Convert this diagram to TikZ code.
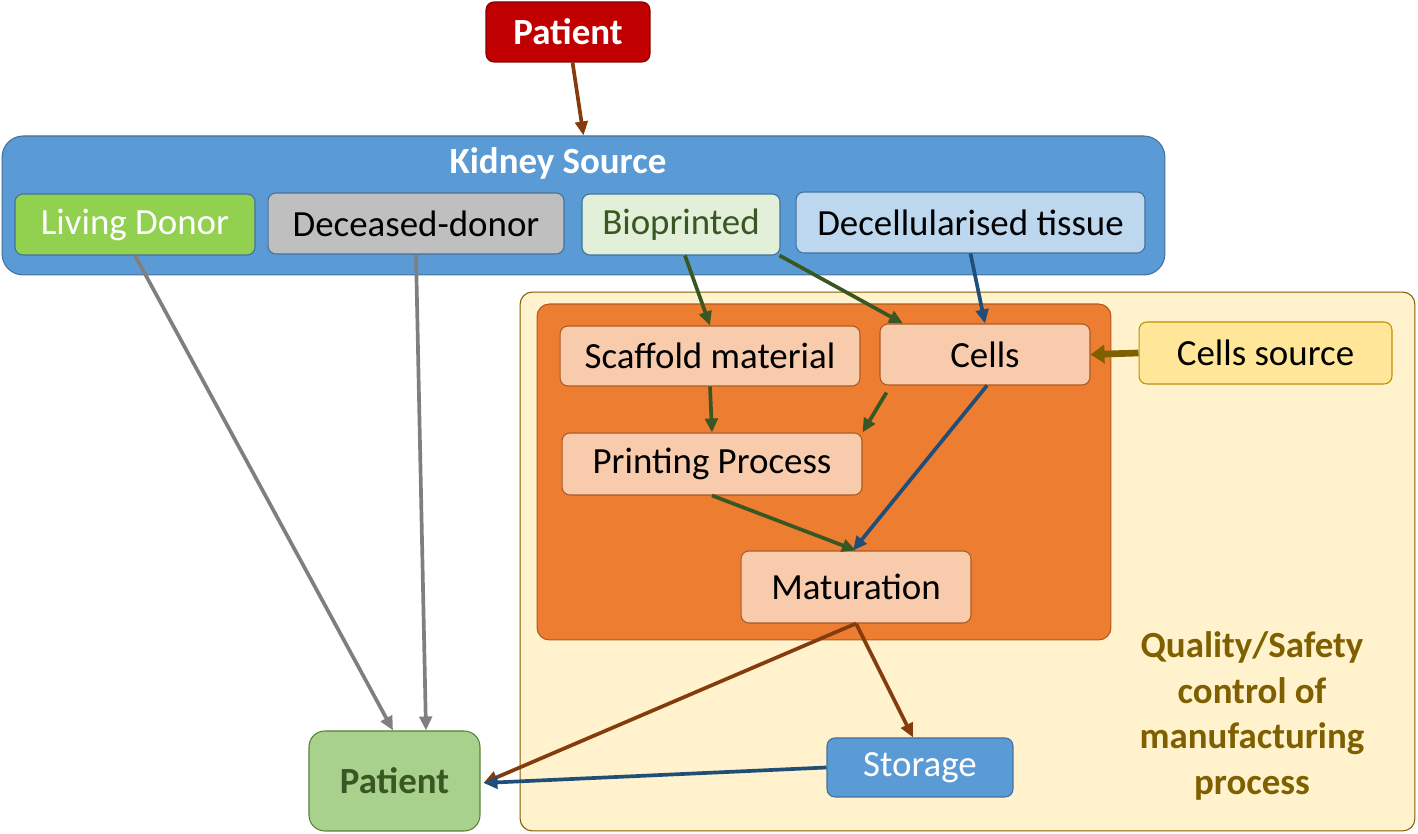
\documentclass[tikz,border=0pt]{standalone}
\usepackage{fontspec}
\setmainfont{Carlito}
\usetikzlibrary{arrows.meta, positioning}
\definecolor{ptred}{HTML}{C00000}
\definecolor{srcblue}{HTML}{5B9BD5}
\definecolor{srcedge}{HTML}{41719C}
\definecolor{livegreen}{HTML}{92D050}
\definecolor{deadgray}{HTML}{BFBFBF}
\definecolor{biofill}{HTML}{E2F0D9}
\definecolor{darkgreen}{HTML}{385723}
\definecolor{decfill}{HTML}{BDD7EE}
\definecolor{qcfill}{HTML}{FFF2CC}
\definecolor{olive}{HTML}{7F6000}
\definecolor{goldedge}{HTML}{BF9000}
\definecolor{orangefill}{HTML}{ED7D31}
\definecolor{orangeedge}{HTML}{AE5A21}
\definecolor{peach}{HTML}{F8CBAD}
\definecolor{csfill}{HTML}{FFE699}
\definecolor{ptgreen}{HTML}{A9D18E}
\definecolor{ptedge}{HTML}{548235}
\definecolor{brown}{HTML}{843C0C}
\definecolor{linegray}{HTML}{7F7F7F}
\definecolor{navy}{HTML}{1F4E79}
\tikzset{
    block/.style={rectangle, draw, rounded corners=4.5pt, text centered, inner sep=2pt, line width=0.6pt, font=\fontsize{21}{26}\selectfont},
    source/.style={block, draw=srcedge, minimum height=1.22cm},
    stage/.style={block, fill=peach, draw=orangeedge, minimum height=1.22cm},
    panel/.style={rectangle, draw, rounded corners=7pt, line width=0.6pt},
    arrow/.style={-{Triangle[length=0.28cm, width=0.25cm]}, line width=2.1pt},
}
\begin{document}
\begin{tikzpicture}[x=0.02cm, y=0.02cm]
    \useasboundingbox (0,0) rectangle (1418,834);
    % background panels
    \node[panel, rounded corners=12pt, fill=srcblue, draw=srcedge, minimum width=23.26cm, minimum height=2.78cm] (kidney) at (583.5,628.5) {};
    \node[panel, fill=qcfill, draw=olive, minimum width=17.9cm, minimum height=10.78cm] (qc) at (967.5,272.5) {};
    \node[panel, fill=orangefill, draw=orangeedge, minimum width=11.48cm, minimum height=6.72cm] (factory) at (824,362) {};
    % kidney sources
    \node[block, fill=ptred, draw=ptred!70!black, text=white, minimum width=3.28cm, minimum height=1.2cm, font=\fontsize{21}{26}\selectfont\bfseries] (patientin) at (568,802) {Patient};
    \node[font=\fontsize{21}{26}\selectfont\bfseries, text=white] (kidneytitle) at (558,671) {Kidney Source};
    \node[source, fill=livegreen, text=white, minimum width=4.8cm] (living) at (135,609.5) {Living Donor};
    \node[source, fill=deadgray, minimum width=5.92cm] (deceased) at (416,610.5) {Deceased-donor};
    \node[source, fill=biofill, text=darkgreen, minimum width=3.96cm] (bioprinted) at (681,609.5) {Bioprinted};
    \node[source, fill=decfill, minimum width=6.98cm] (decell) at (970.5,611.5) {Decellularised tissue};
    % manufacturing steps
    \node[stage, minimum width=6.0cm, minimum height=1.2cm] (scaffold) at (710,478) {Scaffold material};
    \node[stage, minimum width=4.2cm] (cells) at (985,479.5) {Cells};
    \node[stage, minimum width=6.0cm, minimum height=1.24cm] (printing) at (712,370) {Printing Process};
    \node[stage, minimum width=4.6cm, minimum height=1.44cm] (maturation) at (856,247) {Maturation};
    \node[block, fill=csfill, draw=goldedge, minimum width=5.06cm, minimum height=1.24cm] (cellsource) at (1265.5,481) {Cells source};
    \node[block, fill=srcblue, draw=srcedge, text=white, minimum width=3.72cm, minimum height=1.18cm] (storage) at (920,66.5) {Storage};
    \node[block, fill=ptgreen, draw=ptedge, text=darkgreen, minimum width=3.42cm, minimum height=2.0cm, rounded corners=9pt, font=\fontsize{21}{26}\selectfont\bfseries] (patientout) at (394.5,53) {Patient};
    \node[align=center, text=olive, font=\fontsize{21}{26}\selectfont\bfseries] (qclabel) at (1252,118) {Quality/Safety\\control of\\manufacturing\\process};
    % connectors
    \draw[arrow, brown] (patientin) -- (kidney.north);
    \draw[arrow, linegray] (living.south) -- ([xshift=-0.03cm]patientout.north);
    \draw[arrow, linegray] (deceased.south) -- ([xshift=0.63cm]patientout.north);
    \draw[arrow, darkgreen] ([xshift=0.08cm]bioprinted.south) -- (scaffold.north);
    \draw[arrow, darkgreen] ([xshift=-0.02cm]bioprinted.south east) -- ([xshift=-1.64cm]cells.north);
    \draw[arrow, navy] (decell.south) -- (cells.north);
    \draw[-{Triangle[length=0.28cm, width=0.36cm]}, line width=3.8pt, olive] (cellsource.west) -- (cells.east);
    \draw[arrow, darkgreen] (scaffold.south) -- (printing.north);
    \draw[arrow, darkgreen] ([xshift=0.14cm, yshift=-0.14cm]cells.south west) -- (printing.north east);
    \draw[arrow, darkgreen] (printing.south) -- (maturation.north);
    \draw[arrow, navy] ([xshift=0.04cm]cells.south) -- ([xshift=-0.06cm]maturation.north);
    \draw[arrow, brown] (maturation.south) -- ([xshift=0.06cm, yshift=-0.04cm]patientout.east);
    \draw[arrow, brown] (maturation.south) -- ([xshift=-0.14cm]storage.north);
    \draw[arrow, navy] (storage.west) -- ([xshift=0.06cm, yshift=-0.04cm]patientout.east);
\end{tikzpicture}
\end{document}
